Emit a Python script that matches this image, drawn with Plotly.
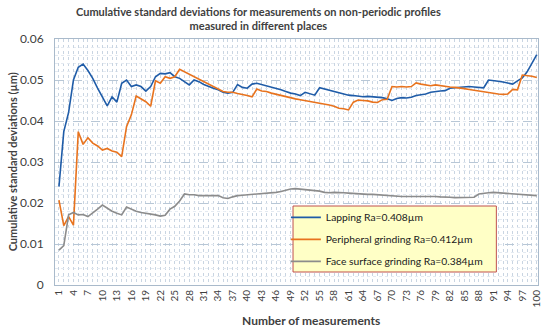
import plotly.graph_objects as go

measurements = list(range(1, 101))

lapping = [
    0.0240, 0.0374, 0.0421, 0.0500, 0.0531, 0.0539, 0.0523, 0.0504, 0.0480, 0.0459,
    0.0437, 0.0459, 0.0446, 0.0492, 0.0500, 0.0484, 0.0488, 0.0484, 0.0473, 0.0484,
    0.0508, 0.0516, 0.0515, 0.0518, 0.0508, 0.0504, 0.0496, 0.0488, 0.0500, 0.0496,
    0.0489, 0.0484, 0.0480, 0.0476, 0.0470, 0.0468, 0.0470, 0.0489, 0.0482, 0.0480,
    0.0490, 0.0492, 0.0489, 0.0486, 0.0482, 0.0480, 0.0476, 0.0472, 0.0468, 0.0466,
    0.0462, 0.0470, 0.0467, 0.0463, 0.0481, 0.0478, 0.0475, 0.0471, 0.0468, 0.0465,
    0.0463, 0.0462, 0.0460, 0.0459, 0.0460, 0.0459, 0.0459, 0.0457, 0.0454, 0.0450,
    0.0455, 0.0457, 0.0456, 0.0458, 0.0462, 0.0464, 0.0466, 0.0470, 0.0472, 0.0473,
    0.0474, 0.0480, 0.0481, 0.0482, 0.0483, 0.0484, 0.0483, 0.0482, 0.0481, 0.0500,
    0.0499, 0.0497, 0.0495, 0.0493, 0.0490, 0.0498, 0.0505, 0.0520, 0.0540, 0.0562,
]

peripheral = [
    0.0207, 0.0145, 0.0167, 0.0146, 0.0374, 0.0343, 0.0359, 0.0346, 0.0339, 0.0329,
    0.0333, 0.0327, 0.0324, 0.0313, 0.0386, 0.0415, 0.0461, 0.0453, 0.0447, 0.0436,
    0.0498, 0.0492, 0.0508, 0.0504, 0.0508, 0.0526, 0.0520, 0.0514, 0.0508, 0.0502,
    0.0496, 0.0489, 0.0484, 0.0477, 0.0472, 0.0470, 0.0470, 0.0467, 0.0465, 0.0462,
    0.0459, 0.0478, 0.0473, 0.0472, 0.0468, 0.0465, 0.0462, 0.0459, 0.0456, 0.0454,
    0.0452, 0.0450, 0.0448, 0.0446, 0.0444, 0.0442, 0.0439, 0.0436, 0.0431, 0.0430,
    0.0427, 0.0446, 0.0451, 0.0450, 0.0449, 0.0446, 0.0445, 0.0452, 0.0453, 0.0484,
    0.0483, 0.0484, 0.0483, 0.0484, 0.0493, 0.0490, 0.0488, 0.0486, 0.0488, 0.0486,
    0.0484, 0.0483, 0.0482, 0.0481, 0.0479, 0.0477, 0.0475, 0.0473, 0.0471, 0.0470,
    0.0468, 0.0466, 0.0465, 0.0466, 0.0477, 0.0476, 0.0512, 0.0511, 0.0509, 0.0506,
]

face = [
    0.0085, 0.0096, 0.0171, 0.0177, 0.0171, 0.0172, 0.0167, 0.0175, 0.0185, 0.0195,
    0.0187, 0.0180, 0.0175, 0.0171, 0.0190, 0.0185, 0.0180, 0.0177, 0.0175, 0.0174,
    0.0171, 0.0168, 0.0170, 0.0185, 0.0192, 0.0205, 0.0222, 0.0220, 0.0220, 0.0218,
    0.0218, 0.0219, 0.0219, 0.0218, 0.0213, 0.0211, 0.0215, 0.0218, 0.0219, 0.0220,
    0.0221, 0.0221, 0.0222, 0.0224, 0.0225, 0.0226, 0.0228, 0.0231, 0.0234, 0.0235,
    0.0234, 0.0233, 0.0232, 0.0231, 0.0229, 0.0226, 0.0225, 0.0226, 0.0226, 0.0225,
    0.0224, 0.0223, 0.0222, 0.0222, 0.0221, 0.0221, 0.0220, 0.0219, 0.0219, 0.0218,
    0.0217, 0.0216, 0.0216, 0.0216, 0.0217, 0.0217, 0.0216, 0.0216, 0.0216, 0.0215,
    0.0215, 0.0214, 0.0213, 0.0213, 0.0213, 0.0213, 0.0214, 0.0222, 0.0224, 0.0225,
    0.0226, 0.0225, 0.0224, 0.0223, 0.0222, 0.0221, 0.0220, 0.0220, 0.0219, 0.0218,
]

series_names = [
    "Lapping Ra=0.408µm",
    "Peripheral grinding Ra=0.412µm",
    "Face surface grinding Ra=0.384µm",
]
series_colors = ["#1f5ca8", "#e8731e", "#8c8c8c"]
x_tick_labels = [str(v) for v in range(1, 101, 3)]
y_tick_values = [0, 0.01, 0.02, 0.03, 0.04, 0.05, 0.06]
y_tick_labels = ["0", "0.01", "0.02", "0.03", "0.04", "0.05", "0.06"]

FONT = "Lato, 'Open Sans', sans-serif"
TEXT = "#404040"

fig = go.Figure()
for i, (name, ys, col) in enumerate(zip(series_names, [lapping, peripheral, face], series_colors)):
    fig.add_trace(go.Scatter(
        x=measurements, y=ys, mode="lines", name=name,
        line=dict(color=col, width=1.6),
        legendgroup=f"g{i}",
    ))

fig.update_layout(
    width=550, height=330,
    margin=dict(l=55, r=8, t=39, b=45),
    paper_bgcolor="white", plot_bgcolor="white",
    font=dict(family=FONT, color=TEXT, size=11),
    showlegend=True,
    legend=dict(
        x=0.478, y=0.334, xanchor="left", yanchor="top",
        bgcolor="rgba(0,0,0,0)", borderwidth=0,
        font=dict(family=FONT, size=10.3, color="#202020"),
        itemwidth=30, traceorder="grouped", tracegroupgap=3,
    ),
)

fig.update_xaxes(
    range=[0.18, 100.25],
    tickmode="array",
    tickvals=[int(t) for t in x_tick_labels],
    ticktext=x_tick_labels,
    tickangle=-90,
    tickfont=dict(size=10, color=TEXT),
    ticks="", ticklen=0,
    showgrid=True, gridcolor="#c9d5e2", griddash="dot", gridwidth=1,
    minor=dict(tickmode="linear", tick0=1, dtick=1, showgrid=True,
               gridcolor="#c9d5e2", griddash="dot", gridwidth=1),
    showline=True, linecolor="#a9bacb", linewidth=1, mirror=True,
    zeroline=False,
)
fig.update_yaxes(
    range=[0, 0.06],
    tickmode="array", tickvals=y_tick_values, ticktext=y_tick_labels,
    tickfont=dict(size=12, color=TEXT),
    ticks="", ticklabelstandoff=8,
    showgrid=True, gridcolor="#b8c7d6", griddash="dash", gridwidth=1,
    minor=dict(tickmode="linear", tick0=0, dtick=0.002, showgrid=True,
               gridcolor="#e4eaf1", griddash="dot", gridwidth=1),
    showline=True, linecolor="#a9bacb", linewidth=1, mirror=True,
    zeroline=False,
)

# legend box
fig.add_shape(
    type="rect", xref="paper", yref="paper",
    x0=(295 - 55) / 487, x1=(500 - 55) / 487,
    y0=(285 - 272) / 246, y1=(285 - 206) / 246,
    fillcolor="#ffffc6", line=dict(color="#c0504d", width=1),
    layer="above",
)

# titles
fig.add_annotation(
    text="<b>Cumulative standard deviations for measurements on non-periodic profiles</b><br><b>measured in different places</b>",
    xref="paper", yref="paper", x=(260 - 55) / 487, y=1 + (39 - 3) / 246,
    xanchor="center", yanchor="top", showarrow=False,
    font=dict(family=FONT, size=11, color=TEXT), align="center",
)
fig.add_annotation(
    text="<b>Cumulative standard deviations (µm)</b>",
    xref="paper", yref="paper", x=-(55 - 12) / 487, y=0.5,
    xanchor="center", yanchor="middle", textangle=-90, showarrow=False,
    font=dict(family=FONT, size=11, color=TEXT),
)
fig.add_annotation(
    text="<b>Number of measurements</b>",
    xref="paper", yref="paper", x=(313 - 55) / 487, y=-(320 - 285) / 246,
    xanchor="center", yanchor="middle", showarrow=False,
    font=dict(family=FONT, size=12, color=TEXT),
)

fig.write_html(
    "out.html",
    config={"displayModeBar": False},
    post_script="document.body.style.margin='0px';document.body.style.overflow='hidden';",
)
